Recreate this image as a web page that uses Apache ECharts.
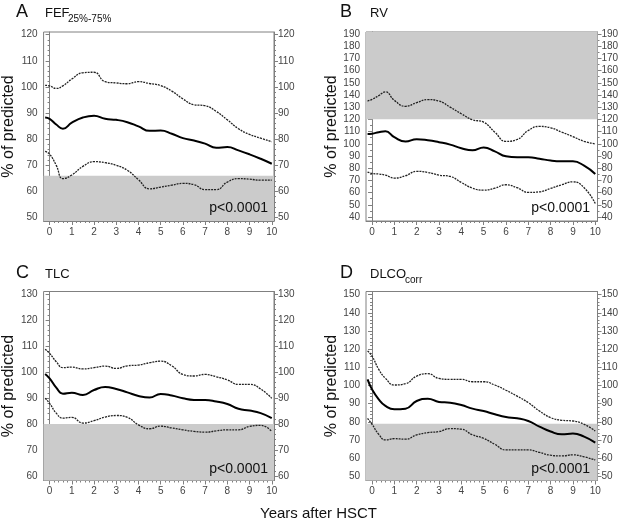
<!DOCTYPE html>
<html><head><meta charset="utf-8">
<script src="https://cdn.jsdelivr.net/npm/echarts@6/dist/echarts.min.js"></script>
<style>html,body{margin:0;padding:0;background:#fff}#c{width:624px;height:524px}</style>
</head><body><div id="c"></div>
<script>
// common x positions (years after HSCT)
const years = [-0.2, 0, 0.3, 0.6, 1, 1.5, 2, 2.5, 3, 3.5, 4, 4.5, 5, 5.5, 6, 6.5, 7, 7.5, 8, 8.5, 9, 9.5, 10];

// A: FEF25%-75%
const fefUpper = [100.6, 100.4, 99.4, 100.4, 103.0, 105.4, 105.6, 102.0, 101.5, 101.2, 102.0, 101.3, 100.5, 98.4, 95.4, 93.2, 92.8, 90.6, 87.4, 84.0, 81.8, 80.4, 79.0];
const fefMean  = [88.3, 87.8, 85.6, 84.0, 86.3, 88.3, 89.0, 87.8, 87.4, 86.5, 84.9, 83.2, 83.3, 82.1, 80.4, 79.5, 78.3, 76.7, 77.0, 75.7, 74.2, 72.5, 70.6];
const fefLower = [75.3, 74.3, 70.0, 64.9, 66.3, 69.6, 71.4, 71.0, 70.0, 68.1, 64.5, 61.0, 61.7, 62.4, 63.1, 62.6, 60.7, 60.7, 63.6, 64.9, 64.7, 64.3, 64.3];

// B: RV
const rvUpper = [135.0, 136.4, 139.5, 142.5, 135.6, 130.7, 133.7, 136.2, 135.0, 130.0, 124.6, 119.7, 117.7, 109.5, 102.0, 103.5, 110.9, 114.2, 113.1, 109.5, 105.9, 102.0, 99.9];
const rvMean  = [108.1, 108.3, 109.5, 110.3, 105.4, 101.8, 103.7, 102.9, 101.3, 99.3, 96.3, 94.6, 96.9, 93.8, 89.7, 88.9, 88.9, 87.8, 86.2, 85.6, 85.6, 82.0, 75.2];
const rvLower = [76.8, 75.7, 75.2, 74.3, 71.9, 73.8, 77.4, 76.5, 74.3, 73.2, 68.3, 63.6, 62.0, 63.6, 66.4, 64.0, 60.1, 60.6, 63.4, 66.4, 68.8, 64.0, 51.0];

// C: TLC
const tlcUpper = [108.8, 107.2, 104.0, 101.7, 101.9, 101.2, 101.7, 102.3, 101.4, 102.4, 102.7, 103.6, 104.2, 102.4, 99.1, 98.5, 99.1, 98.2, 97.0, 95.3, 95.3, 93.5, 89.9];
const tlcMean  = [99.3, 97.6, 94.0, 91.7, 92.1, 91.2, 93.1, 94.3, 93.5, 92.2, 90.8, 90.2, 91.6, 91.0, 89.9, 89.3, 89.3, 88.7, 87.7, 85.9, 85.2, 84.2, 82.3];
const tlcLower = [89.9, 88.0, 84.2, 82.3, 82.6, 80.4, 81.3, 82.7, 83.3, 82.6, 79.7, 78.2, 79.2, 78.5, 77.8, 77.2, 76.9, 77.4, 77.8, 77.8, 79.1, 79.5, 77.2];

// D: DLCOcorr
const dlcoUpper = [119.0, 116.2, 108.9, 104.0, 100.3, 101.0, 105.2, 106.5, 103.9, 103.4, 103.4, 102.1, 102.1, 100.3, 97.4, 94.2, 90.6, 86.0, 82.4, 80.9, 80.5, 78.7, 75.0];
const dlcoMean  = [103.4, 97.9, 92.4, 88.8, 86.9, 87.3, 91.5, 92.8, 91.0, 90.6, 89.3, 87.3, 86.0, 84.2, 82.7, 82.0, 80.5, 77.4, 74.7, 73.2, 73.6, 71.9, 68.6];
const dlcoLower = [82.0, 78.7, 73.2, 70.1, 70.8, 70.5, 72.9, 74.1, 74.7, 76.3, 76.0, 72.9, 71.0, 67.7, 64.6, 64.6, 64.6, 63.2, 61.7, 61.3, 61.9, 60.8, 59.1];

// tick labels
const xTicks = [0, 1, 2, 3, 4, 5, 6, 7, 8, 9, 10];
const yTicksA = [50, 60, 70, 80, 90, 100, 110, 120];
const yTicksB = [40, 50, 60, 70, 80, 90, 100, 110, 120, 130, 140, 150, 160, 170, 180, 190];
const yTicksC = [60, 70, 80, 90, 100, 110, 120, 130];
const yTicksD = [50, 60, 70, 80, 90, 100, 110, 120, 130, 140, 150];

// axis extents and reference bands
const xRange = [-0.27, 10.1];
const yRanges = [[48.7, 121], [36.7, 191.6], [58.3, 131], [47.8, 151.7]];
const bands = [[48.7, 66], [120, 191.6], [58.3, 80], [47.8, 79]];

const panelLetters = ['A', 'B', 'C', 'D'];
const panelNames = ['FEF', 'RV', 'TLC', 'DLCO'];
const panelSubs = ['25%-75%', '', '', 'corr'];
const pText = 'p<0.0001';

function minorTicks(lo, hi, step) {
  const out = [];
  for (let v = lo; v <= hi + 1e-9; v += step) out.push(Math.round(v * 100) / 100);
  return out;
}
const xMinor = minorTicks(0, 10, 0.2);
const yMinorSteps = [2, 5, 2, 2];
const yTicksAll = [yTicksA, yTicksB, yTicksC, yTicksD];
const seriesData = [
  [fefUpper, fefMean, fefLower],
  [rvUpper, rvMean, rvLower],
  [tlcUpper, tlcMean, tlcLower],
  [dlcoUpper, dlcoMean, dlcoLower]
];

const FONT = 'Liberation Sans, Arial, sans-serif';
const AX = '#808080';
const LBL = '#444';

const grids = [
  {left: 43, top: 32, width: 231, height: 189},
  {left: 366, top: 32, width: 231.5, height: 189},
  {left: 43, top: 291.5, width: 231, height: 189},
  {left: 366, top: 291.5, width: 231.5, height: 189}
].map(g => Object.assign(g, {show: true, borderColor: AX, borderWidth: 1, backgroundColor: 'transparent'}));

const xAxis = [], yAxis = [], series = [], title = [];
for (let g = 0; g < 4; g++) {
  const yt = yTicksAll[g];
  const yr = yRanges[g];
  xAxis.push({
    type: 'value', gridIndex: g, min: xRange[0], max: xRange[1], position: 'bottom',
    splitLine: {show: false},
    axisLine: {show: true, lineStyle: {color: AX}},
    axisTick: {show: true, customValues: xTicks, length: 4, lineStyle: {color: AX}},
    axisLabel: {customValues: xTicks, fontSize: 10, color: LBL, margin: 6, fontFamily: FONT}
  });
  xAxis.push({
    type: 'value', gridIndex: g, min: xRange[0], max: xRange[1], position: 'bottom',
    splitLine: {show: false}, axisLine: {show: false},
    axisTick: {show: true, customValues: xMinor, length: 2, lineStyle: {color: AX}},
    axisLabel: {show: false}
  });
  const yMinor = minorTicks(yt[0], yt[yt.length - 1], yMinorSteps[g]);
  // left major
  yAxis.push({
    type: 'value', gridIndex: g, min: yr[0], max: yr[1], position: 'left',
    name: '% of predicted', nameLocation: 'middle', nameGap: 23,
    nameTextStyle: {fontSize: 16, color: '#111', fontFamily: FONT},
    splitLine: {show: false},
    axisLine: {show: true, lineStyle: {color: AX}},
    axisTick: {show: true, customValues: yt, length: 4, lineStyle: {color: AX}},
    axisLabel: {customValues: yt, fontSize: 10, color: LBL, margin: 6, fontFamily: FONT}
  });
  yAxis.push({
    type: 'value', gridIndex: g, min: yr[0], max: yr[1], position: 'left',
    splitLine: {show: false}, axisLine: {show: false},
    axisTick: {show: true, customValues: yMinor, length: 2, lineStyle: {color: AX}},
    axisLabel: {show: false}
  });
  // right major
  yAxis.push({
    type: 'value', gridIndex: g, min: yr[0], max: yr[1], position: 'right',
    splitLine: {show: false},
    axisLine: {show: true, lineStyle: {color: AX}},
    axisTick: {show: true, customValues: yt, length: 4, lineStyle: {color: AX}},
    axisLabel: {customValues: yt, fontSize: 10, color: LBL, margin: 4, fontFamily: FONT}
  });
  yAxis.push({
    type: 'value', gridIndex: g, min: yr[0], max: yr[1], position: 'right',
    splitLine: {show: false}, axisLine: {show: false},
    axisTick: {show: true, customValues: yMinor, length: 2, lineStyle: {color: AX}},
    axisLabel: {show: false}
  });

  const [up, mean, low] = seriesData[g];
  const toPts = arr => years.map((x, i) => [x, arr[i]]);
  // band
  series.push({
    type: 'line', xAxisIndex: 2 * g, yAxisIndex: 4 * g, data: [], silent: true,
    markArea: {silent: true, itemStyle: {color: '#cbcbcb'}, data: [[{yAxis: bands[g][0]}, {yAxis: bands[g][1]}]]}
  });
  series.push({
    type: 'line', xAxisIndex: 2 * g, yAxisIndex: 4 * g, data: toPts(up), smooth: true, showSymbol: false,
    lineStyle: {color: '#222', width: 1.3, type: [2, 1]}, silent: true, z: 3
  });
  series.push({
    type: 'line', xAxisIndex: 2 * g, yAxisIndex: 4 * g, data: toPts(mean), smooth: true, showSymbol: false,
    lineStyle: {color: '#000', width: 2}, silent: true, z: 4
  });
  series.push({
    type: 'line', xAxisIndex: 2 * g, yAxisIndex: 4 * g, data: toPts(low), smooth: true, showSymbol: false,
    lineStyle: {color: '#222', width: 1.3, type: [2, 1]}, silent: true, z: 3
  });

  const colLeft = g % 2 === 0;
  const rowTop = g < 2 ? 0 : 261;
  title.push({text: panelLetters[g], left: colLeft ? 16 : 340, top: rowTop + 3,
    textStyle: {fontSize: 18, fontWeight: 'normal', color: '#111', fontFamily: FONT}});
  title.push({text: panelNames[g], left: colLeft ? 45 : 370, top: rowTop + 7,
    textStyle: {fontSize: 13, fontWeight: 'normal', color: '#111', fontFamily: FONT}});
  if (panelSubs[g]) {
    title.push({text: panelSubs[g], left: colLeft ? 68 : 405, top: rowTop + 14,
      textStyle: {fontSize: 10, fontWeight: 'normal', color: '#111', fontFamily: FONT}});
  }
  title.push({text: pText, right: colLeft ? 356 : 34, top: g < 2 ? 201 : 462,
    textStyle: {fontSize: 14, fontWeight: 'normal', color: '#111', fontFamily: FONT}});
}
title.push({text: 'Years after HSCT', left: 260, top: 506,
  textStyle: {fontSize: 15, fontWeight: 'normal', color: '#111', fontFamily: FONT}});

title.forEach(t => { t.padding = 0; });

const chart = echarts.init(document.getElementById('c'), null, {renderer: 'canvas'});
chart.setOption({animation: false, backgroundColor: '#fff', title, grid: grids, xAxis, yAxis, series});
</script></body></html>
